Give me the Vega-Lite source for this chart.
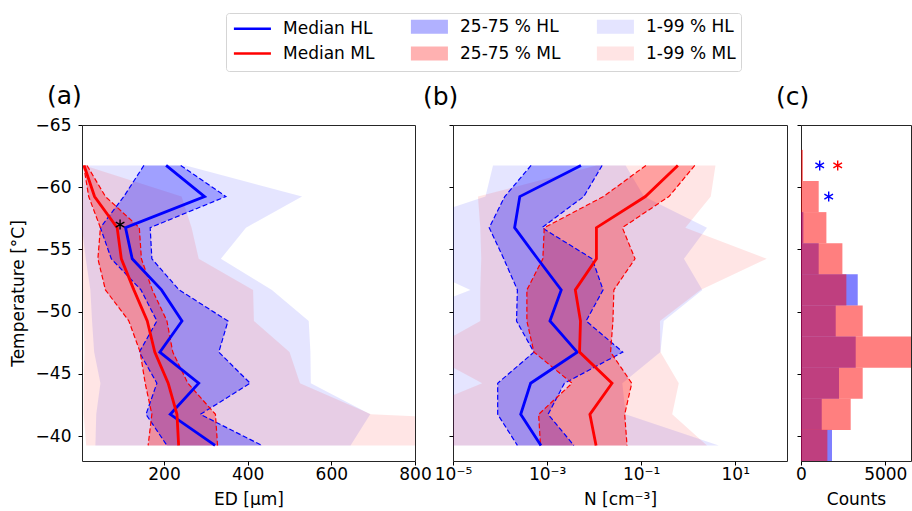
{
"$schema": "https://vega.github.io/schema/vega-lite/v6.json",
"padding": {"left": 8, "top": 12, "right": 0, "bottom": 0},
"bounds": "flush",
"spacing": 38,
"resolve": {"scale": {"fill": "shared", "stroke": "shared", "opacity": "shared", "shape": "shared"}},
"config": {
  "font": "DejaVu Sans",
  "view": {"stroke": "#262626", "strokeWidth": 1},
  "axis": {"domain": false, "grid": false, "labelFlush": false, "labelOverlap": false, "labelFont": "DejaVu Sans", "labelFontSize": 17, "labelColor": "#000", "titleFont": "DejaVu Sans", "titleFontSize": 17, "titleFontWeight": "normal", "titleColor": "#000", "tickColor": "#000", "tickSize": 4, "tickWidth": 1},
  "axisX": {"labelPadding": 1, "titlePadding": 9},
  "axisY": {"labelPadding": 7, "titlePadding": 8},
  "title": {"font": "DejaVu Sans", "fontSize": 25, "fontWeight": "normal", "color": "#000"},
  "legend": {"orient": "none", "legendX": 144, "legendY": -112, "columns": 3, "gridAlign": "each", "columnPadding": 30, "rowPadding": 2, "symbolSize": 196, "labelOffset": 35, "labelFont": "DejaVu Sans", "labelFontSize": 17, "labelColor": "#000", "padding": 5, "strokeColor": "#d5d5d5", "fillColor": "#ffffff", "cornerRadius": 3, "symbolStrokeWidth": 2.6}
},
"datasets": {
  "bands": [
    {"var":"ED","series":"1-99 % HL","band":"1-99","grp":"HL","T":-61.75,"lo":10,"hi":252},
    {"var":"ED","series":"1-99 % HL","band":"1-99","grp":"HL","T":-59.25,"lo":6,"hi":530},
    {"var":"ED","series":"1-99 % HL","band":"1-99","grp":"HL","T":-56.75,"lo":4,"hi":396},
    {"var":"ED","series":"1-99 % HL","band":"1-99","grp":"HL","T":-54.25,"lo":13,"hi":336},
    {"var":"ED","series":"1-99 % HL","band":"1-99","grp":"HL","T":-51.75,"lo":24,"hi":458},
    {"var":"ED","series":"1-99 % HL","band":"1-99","grp":"HL","T":-49.25,"lo":28,"hi":546},
    {"var":"ED","series":"1-99 % HL","band":"1-99","grp":"HL","T":-46.75,"lo":33,"hi":550},
    {"var":"ED","series":"1-99 % HL","band":"1-99","grp":"HL","T":-44.25,"lo":48,"hi":551},
    {"var":"ED","series":"1-99 % HL","band":"1-99","grp":"HL","T":-41.75,"lo":38,"hi":693},
    {"var":"ED","series":"1-99 % HL","band":"1-99","grp":"HL","T":-39.25,"lo":36,"hi":646},
    {"var":"ED","series":"1-99 % ML","band":"1-99","grp":"ML","T":-61.75,"lo":8,"hi":10},
    {"var":"ED","series":"1-99 % ML","band":"1-99","grp":"ML","T":-59.25,"lo":5,"hi":242},
    {"var":"ED","series":"1-99 % ML","band":"1-99","grp":"ML","T":-56.75,"lo":4,"hi":266},
    {"var":"ED","series":"1-99 % ML","band":"1-99","grp":"ML","T":-54.25,"lo":4,"hi":283},
    {"var":"ED","series":"1-99 % ML","band":"1-99","grp":"ML","T":-51.75,"lo":6,"hi":413},
    {"var":"ED","series":"1-99 % ML","band":"1-99","grp":"ML","T":-49.25,"lo":8,"hi":415},
    {"var":"ED","series":"1-99 % ML","band":"1-99","grp":"ML","T":-46.75,"lo":10,"hi":500},
    {"var":"ED","series":"1-99 % ML","band":"1-99","grp":"ML","T":-44.25,"lo":8,"hi":525},
    {"var":"ED","series":"1-99 % ML","band":"1-99","grp":"ML","T":-41.75,"lo":8,"hi":695},
    {"var":"ED","series":"1-99 % ML","band":"1-99","grp":"ML","T":-39.25,"lo":14,"hi":2400},
    {"var":"ED","series":"25-75 % HL","band":"25-75","grp":"HL","T":-61.75,"lo":152,"hi":240},
    {"var":"ED","series":"25-75 % HL","band":"25-75","grp":"HL","T":-59.25,"lo":104,"hi":348},
    {"var":"ED","series":"25-75 % HL","band":"25-75","grp":"HL","T":-56.75,"lo":48,"hi":167},
    {"var":"ED","series":"25-75 % HL","band":"25-75","grp":"HL","T":-54.25,"lo":74,"hi":171},
    {"var":"ED","series":"25-75 % HL","band":"25-75","grp":"HL","T":-51.75,"lo":145,"hi":236},
    {"var":"ED","series":"25-75 % HL","band":"25-75","grp":"HL","T":-49.25,"lo":183,"hi":353},
    {"var":"ED","series":"25-75 % HL","band":"25-75","grp":"HL","T":-46.75,"lo":141,"hi":331},
    {"var":"ED","series":"25-75 % HL","band":"25-75","grp":"HL","T":-44.25,"lo":183,"hi":406},
    {"var":"ED","series":"25-75 % HL","band":"25-75","grp":"HL","T":-41.75,"lo":157,"hi":287},
    {"var":"ED","series":"25-75 % HL","band":"25-75","grp":"HL","T":-39.25,"lo":207,"hi":434},
    {"var":"ED","series":"25-75 % ML","band":"25-75","grp":"ML","T":-61.75,"lo":8,"hi":16},
    {"var":"ED","series":"25-75 % ML","band":"25-75","grp":"ML","T":-59.25,"lo":20,"hi":60},
    {"var":"ED","series":"25-75 % ML","band":"25-75","grp":"ML","T":-56.75,"lo":48,"hi":141},
    {"var":"ED","series":"25-75 % ML","band":"25-75","grp":"ML","T":-54.25,"lo":42,"hi":146},
    {"var":"ED","series":"25-75 % ML","band":"25-75","grp":"ML","T":-51.75,"lo":60,"hi":172},
    {"var":"ED","series":"25-75 % ML","band":"25-75","grp":"ML","T":-49.25,"lo":116,"hi":207},
    {"var":"ED","series":"25-75 % ML","band":"25-75","grp":"ML","T":-46.75,"lo":143,"hi":221},
    {"var":"ED","series":"25-75 % ML","band":"25-75","grp":"ML","T":-44.25,"lo":155,"hi":257},
    {"var":"ED","series":"25-75 % ML","band":"25-75","grp":"ML","T":-41.75,"lo":171,"hi":323},
    {"var":"ED","series":"25-75 % ML","band":"25-75","grp":"ML","T":-39.25,"lo":162,"hi":328},
    {"var":"N","series":"1-99 % HL","band":"1-99","grp":"HL","T":-61.75,"lo":7.08e-5,"hi":0.0468},
    {"var":"N","series":"1-99 % HL","band":"1-99","grp":"HL","T":-59.25,"lo":4.9e-5,"hi":0.115},
    {"var":"N","series":"1-99 % HL","band":"1-99","grp":"HL","T":-56.75,"lo":5e-7,"hi":2.51},
    {"var":"N","series":"1-99 % HL","band":"1-99","grp":"HL","T":-54.25,"lo":7.9e-7,"hi":0.813},
    {"var":"N","series":"1-99 % HL","band":"1-99","grp":"HL","T":-51.75,"lo":2.34e-5,"hi":2.0},
    {"var":"N","series":"1-99 % HL","band":"1-99","grp":"HL","T":-49.25,"lo":5e-7,"hi":0.302},
    {"var":"N","series":"1-99 % HL","band":"1-99","grp":"HL","T":-46.75,"lo":1e-6,"hi":0.257},
    {"var":"N","series":"1-99 % HL","band":"1-99","grp":"HL","T":-44.25,"lo":1e-6,"hi":0.0398},
    {"var":"N","series":"1-99 % HL","band":"1-99","grp":"HL","T":-41.75,"lo":1e-6,"hi":0.0468},
    {"var":"N","series":"1-99 % HL","band":"1-99","grp":"HL","T":-39.25,"lo":1e-6,"hi":4.47},
    {"var":"N","series":"1-99 % ML","band":"1-99","grp":"ML","T":-61.75,"lo":0.0112,"hi":3.8},
    {"var":"N","series":"1-99 % ML","band":"1-99","grp":"ML","T":-59.25,"lo":3.39e-5,"hi":3.02},
    {"var":"N","series":"1-99 % ML","band":"1-99","grp":"ML","T":-56.75,"lo":3.8e-5,"hi":0.871},
    {"var":"N","series":"1-99 % ML","band":"1-99","grp":"ML","T":-54.25,"lo":3.98e-5,"hi":46.8},
    {"var":"N","series":"1-99 % ML","band":"1-99","grp":"ML","T":-51.75,"lo":3.8e-5,"hi":1.82},
    {"var":"N","series":"1-99 % ML","band":"1-99","grp":"ML","T":-49.25,"lo":3.8e-5,"hi":0.251},
    {"var":"N","series":"1-99 % ML","band":"1-99","grp":"ML","T":-46.75,"lo":2.51e-6,"hi":0.257},
    {"var":"N","series":"1-99 % ML","band":"1-99","grp":"ML","T":-44.25,"lo":4.17e-5,"hi":0.631},
    {"var":"N","series":"1-99 % ML","band":"1-99","grp":"ML","T":-41.75,"lo":1e-6,"hi":0.457},
    {"var":"N","series":"1-99 % ML","band":"1-99","grp":"ML","T":-39.25,"lo":1e-6,"hi":2.51},
    {"var":"N","series":"25-75 % HL","band":"25-75","grp":"HL","T":-61.75,"lo":4.57e-4,"hi":0.0148},
    {"var":"N","series":"25-75 % HL","band":"25-75","grp":"HL","T":-59.25,"lo":1.26e-4,"hi":0.00603},
    {"var":"N","series":"25-75 % HL","band":"25-75","grp":"HL","T":-56.75,"lo":5.89e-5,"hi":7.76e-4},
    {"var":"N","series":"25-75 % HL","band":"25-75","grp":"HL","T":-54.25,"lo":1.2e-4,"hi":0.00912},
    {"var":"N","series":"25-75 % HL","band":"25-75","grp":"HL","T":-51.75,"lo":2.34e-4,"hi":0.0155},
    {"var":"N","series":"25-75 % HL","band":"25-75","grp":"HL","T":-49.25,"lo":2.24e-4,"hi":0.00676},
    {"var":"N","series":"25-75 % HL","band":"25-75","grp":"HL","T":-46.75,"lo":5.25e-4,"hi":0.0407},
    {"var":"N","series":"25-75 % HL","band":"25-75","grp":"HL","T":-44.25,"lo":8.91e-5,"hi":0.00234},
    {"var":"N","series":"25-75 % HL","band":"25-75","grp":"HL","T":-41.75,"lo":8.91e-5,"hi":0.00105},
    {"var":"N","series":"25-75 % HL","band":"25-75","grp":"HL","T":-39.25,"lo":2.34e-4,"hi":0.00372},
    {"var":"N","series":"25-75 % ML","band":"25-75","grp":"ML","T":-61.75,"lo":0.126,"hi":1.38},
    {"var":"N","series":"25-75 % ML","band":"25-75","grp":"ML","T":-59.25,"lo":0.0158,"hi":0.389},
    {"var":"N","series":"25-75 % ML","band":"25-75","grp":"ML","T":-56.75,"lo":8.71e-4,"hi":0.0398},
    {"var":"N","series":"25-75 % ML","band":"25-75","grp":"ML","T":-54.25,"lo":8.13e-4,"hi":0.0741},
    {"var":"N","series":"25-75 % ML","band":"25-75","grp":"ML","T":-51.75,"lo":3.72e-4,"hi":0.0263},
    {"var":"N","series":"25-75 % ML","band":"25-75","grp":"ML","T":-49.25,"lo":3.72e-4,"hi":0.0251},
    {"var":"N","series":"25-75 % ML","band":"25-75","grp":"ML","T":-46.75,"lo":5.25e-4,"hi":0.0224},
    {"var":"N","series":"25-75 % ML","band":"25-75","grp":"ML","T":-44.25,"lo":0.00339,"hi":0.0631},
    {"var":"N","series":"25-75 % ML","band":"25-75","grp":"ML","T":-41.75,"lo":6.61e-4,"hi":0.0447},
    {"var":"N","series":"25-75 % ML","band":"25-75","grp":"ML","T":-39.25,"lo":7.24e-4,"hi":0.0501}
  ],
  "medians": [
    {"var":"ED","series":"Median HL","T":-61.75,"x":205},
    {"var":"ED","series":"Median HL","T":-59.25,"x":297},
    {"var":"ED","series":"Median HL","T":-56.75,"x":108},
    {"var":"ED","series":"Median HL","T":-54.25,"x":124},
    {"var":"ED","series":"Median HL","T":-51.75,"x":194},
    {"var":"ED","series":"Median HL","T":-49.25,"x":243},
    {"var":"ED","series":"Median HL","T":-46.75,"x":190},
    {"var":"ED","series":"Median HL","T":-44.25,"x":283},
    {"var":"ED","series":"Median HL","T":-41.75,"x":215},
    {"var":"ED","series":"Median HL","T":-39.25,"x":322},
    {"var":"ED","series":"Median ML","T":-61.75,"x":9},
    {"var":"ED","series":"Median ML","T":-59.25,"x":34},
    {"var":"ED","series":"Median ML","T":-56.75,"x":88},
    {"var":"ED","series":"Median ML","T":-54.25,"x":98},
    {"var":"ED","series":"Median ML","T":-51.75,"x":128},
    {"var":"ED","series":"Median ML","T":-49.25,"x":160},
    {"var":"ED","series":"Median ML","T":-46.75,"x":178},
    {"var":"ED","series":"Median ML","T":-44.25,"x":210},
    {"var":"ED","series":"Median ML","T":-41.75,"x":231},
    {"var":"ED","series":"Median ML","T":-39.25,"x":235},
    {"var":"N","series":"Median HL","T":-61.75,"x":0.00525},
    {"var":"N","series":"Median HL","T":-59.25,"x":2.63e-4},
    {"var":"N","series":"Median HL","T":-56.75,"x":2.04e-4},
    {"var":"N","series":"Median HL","T":-54.25,"x":6.31e-4},
    {"var":"N","series":"Median HL","T":-51.75,"x":0.002},
    {"var":"N","series":"Median HL","T":-49.25,"x":0.00115},
    {"var":"N","series":"Median HL","T":-46.75,"x":0.00437},
    {"var":"N","series":"Median HL","T":-44.25,"x":4.47e-4},
    {"var":"N","series":"Median HL","T":-41.75,"x":2.75e-4},
    {"var":"N","series":"Median HL","T":-39.25,"x":7.41e-4},
    {"var":"N","series":"Median ML","T":-61.75,"x":0.603},
    {"var":"N","series":"Median ML","T":-59.25,"x":0.123},
    {"var":"N","series":"Median ML","T":-56.75,"x":0.0112},
    {"var":"N","series":"Median ML","T":-54.25,"x":0.0112},
    {"var":"N","series":"Median ML","T":-51.75,"x":0.00398},
    {"var":"N","series":"Median ML","T":-49.25,"x":0.00513},
    {"var":"N","series":"Median ML","T":-46.75,"x":0.0049},
    {"var":"N","series":"Median ML","T":-44.25,"x":0.024},
    {"var":"N","series":"Median ML","T":-41.75,"x":0.00813},
    {"var":"N","series":"Median ML","T":-39.25,"x":0.011}
  ],
  "hist": [
    {"grp":"HL","lo":-58,"hi":-55.5,"count":140},
    {"grp":"HL","lo":-55.5,"hi":-53,"count":1050},
    {"grp":"HL","lo":-53,"hi":-50.5,"count":3365},
    {"grp":"HL","lo":-50.5,"hi":-48,"count":2060},
    {"grp":"HL","lo":-48,"hi":-45.5,"count":3245},
    {"grp":"HL","lo":-45.5,"hi":-43,"count":2255},
    {"grp":"HL","lo":-43,"hi":-40.5,"count":1230},
    {"grp":"HL","lo":-40.5,"hi":-38,"count":1840},
    {"grp":"ML","lo":-63,"hi":-60.5,"count":120},
    {"grp":"ML","lo":-60.5,"hi":-58,"count":1050},
    {"grp":"ML","lo":-58,"hi":-55.5,"count":1506},
    {"grp":"ML","lo":-55.5,"hi":-53,"count":2455},
    {"grp":"ML","lo":-53,"hi":-50.5,"count":2690},
    {"grp":"ML","lo":-50.5,"hi":-48,"count":3660},
    {"grp":"ML","lo":-48,"hi":-45.5,"count":6800},
    {"grp":"ML","lo":-45.5,"hi":-43,"count":3660},
    {"grp":"ML","lo":-43,"hi":-40.5,"count":2948},
    {"grp":"ML","lo":-40.5,"hi":-38,"count":1565}
  ],
  "stars": [
    {"panel":"a","grp":"all","x":95,"T":-57},
    {"panel":"c","grp":"HL","x":1109,"T":-61.75},
    {"panel":"c","grp":"HL","x":1643,"T":-59.25},
    {"panel":"c","grp":"ML","x":2177,"T":-61.75}
  ]
},
"hconcat": [
{
  "width": 333, "height": 336,
  "title": {"text": "(a)", "anchor": "start", "frame": "group", "dx": -35, "offset": 7},
  "layer": [
    {"data": {"name": "bands"}, "transform": [{"filter": "datum.var === 'ED' && datum.band === '1-99'"}],
     "mark": {"type": "area", "orient": "horizontal", "clip": true},
     "encoding": {
       "y": {"field": "T", "type": "quantitative", "scale": {"domain": [-65, -38], "reverse": true, "nice": false, "zero": false}, "axis": {"values": [-65, -60, -55, -50, -45, -40]}, "title": "Temperature [°C]"},
       "x": {"field": "lo", "type": "quantitative", "scale": {"domain": [4, 800], "nice": false, "zero": false}, "axis": {"values": [200, 400, 600, 800]}, "title": "ED [μm]"},
       "x2": {"field": "hi"},
       "fill": {"field": "series", "type": "nominal", "title": null, "scale": {"domain": ["Median HL", "Median ML", "25-75 % HL", "25-75 % ML", "1-99 % HL", "1-99 % ML"], "range": ["transparent", "transparent", "#0000ff", "#ff0000", "#0000ff", "#ff0000"]}},
       "opacity": {"field": "series", "type": "nominal", "title": null, "scale": {"type": "ordinal", "domain": ["Median HL", "Median ML", "25-75 % HL", "25-75 % ML", "1-99 % HL", "1-99 % ML"], "range": [1, 1, 0.3, 0.3, 0.1, 0.1]}}
     }},
    {"data": {"name": "bands"}, "transform": [{"filter": "datum.var === 'ED' && datum.band === '25-75'"}],
     "mark": {"type": "area", "orient": "horizontal", "clip": true},
     "encoding": {
       "y": {"field": "T", "type": "quantitative", "title": "Temperature [°C]"},
       "x": {"field": "lo", "type": "quantitative", "title": "ED [μm]"},
       "x2": {"field": "hi"},
       "fill": {"field": "series", "type": "nominal", "title": null, "scale": {"domain": ["Median HL", "Median ML", "25-75 % HL", "25-75 % ML", "1-99 % HL", "1-99 % ML"], "range": ["transparent", "transparent", "#0000ff", "#ff0000", "#0000ff", "#ff0000"]}},
       "opacity": {"field": "series", "type": "nominal", "title": null, "scale": {"type": "ordinal", "domain": ["Median HL", "Median ML", "25-75 % HL", "25-75 % ML", "1-99 % HL", "1-99 % ML"], "range": [1, 1, 0.3, 0.3, 0.1, 0.1]}}
     }},
    {"data": {"name": "bands"}, "transform": [{"filter": "datum.var === 'ED' && datum.band === '25-75' && datum.grp === 'HL'"}],
     "mark": {"type": "line", "stroke": "#0000ff", "strokeWidth": 1.2, "strokeDash": [5, 2.5], "clip": true},
     "encoding": {"y": {"field": "T", "type": "quantitative", "title": "Temperature [°C]"}, "x": {"field": "lo", "type": "quantitative", "title": "ED [μm]"}, "order": {"field": "T", "type": "quantitative"}}},
    {"data": {"name": "bands"}, "transform": [{"filter": "datum.var === 'ED' && datum.band === '25-75' && datum.grp === 'HL'"}],
     "mark": {"type": "line", "stroke": "#0000ff", "strokeWidth": 1.2, "strokeDash": [5, 2.5], "clip": true},
     "encoding": {"y": {"field": "T", "type": "quantitative", "title": "Temperature [°C]"}, "x": {"field": "hi", "type": "quantitative", "title": "ED [μm]"}, "order": {"field": "T", "type": "quantitative"}}},
    {"data": {"name": "bands"}, "transform": [{"filter": "datum.var === 'ED' && datum.band === '25-75' && datum.grp === 'ML'"}],
     "mark": {"type": "line", "stroke": "#ff0000", "strokeWidth": 1.2, "strokeDash": [5, 2.5], "clip": true},
     "encoding": {"y": {"field": "T", "type": "quantitative", "title": "Temperature [°C]"}, "x": {"field": "lo", "type": "quantitative", "title": "ED [μm]"}, "order": {"field": "T", "type": "quantitative"}}},
    {"data": {"name": "bands"}, "transform": [{"filter": "datum.var === 'ED' && datum.band === '25-75' && datum.grp === 'ML'"}],
     "mark": {"type": "line", "stroke": "#ff0000", "strokeWidth": 1.2, "strokeDash": [5, 2.5], "clip": true},
     "encoding": {"y": {"field": "T", "type": "quantitative", "title": "Temperature [°C]"}, "x": {"field": "hi", "type": "quantitative", "title": "ED [μm]"}, "order": {"field": "T", "type": "quantitative"}}},
    {"data": {"name": "medians"}, "transform": [{"filter": "datum.var === 'ED'"}],
     "mark": {"type": "line", "strokeWidth": 2.8, "clip": true},
     "encoding": {
       "y": {"field": "T", "type": "quantitative", "title": "Temperature [°C]"},
       "x": {"field": "x", "type": "quantitative", "title": "ED [μm]"},
       "stroke": {"field": "series", "type": "nominal", "title": null, "scale": {"domain": ["Median HL", "Median ML", "25-75 % HL", "25-75 % ML", "1-99 % HL", "1-99 % ML"], "range": ["#0000ff", "#ff0000", "transparent", "transparent", "transparent", "transparent"]}},
       "order": {"field": "T", "type": "quantitative"}
     }},
    {"data": {"name": "medians"}, "transform": [{"filter": "datum.var === 'ED'"}],
     "mark": {"type": "point", "opacity": 0, "clip": true},
     "encoding": {
       "y": {"field": "T", "type": "quantitative", "title": "Temperature [°C]"},
       "x": {"field": "x", "type": "quantitative", "title": "ED [μm]"},
       "shape": {"field": "series", "type": "nominal", "title": null, "scale": {"domain": ["Median HL", "Median ML", "25-75 % HL", "25-75 % ML", "1-99 % HL", "1-99 % ML"], "range": ["M-0.8,0H4.49", "M-0.8,0H4.49", "M-0.8,-1H4.49V1H-0.8Z", "M-0.8,-1H4.49V1H-0.8Z", "M-0.8,-1H4.49V1H-0.8Z", "M-0.8,-1H4.49V1H-0.8Z"]}}
     }},
    {"data": {"name": "stars"}, "transform": [{"filter": "datum.panel === 'a'"}],
     "mark": {"type": "point", "shape": "M0,-1V1M-0.866,-0.5L0.866,0.5M-0.866,0.5L0.866,-0.5", "filled": false, "stroke": "#000", "strokeWidth": 1.4, "size": 100, "opacity": 1},
     "encoding": {"y": {"field": "T", "type": "quantitative", "title": "Temperature [°C]"}, "x": {"field": "x", "type": "quantitative", "title": "ED [μm]"}}}
  ]
},
{
  "hconcat": [
  {
    "width": 334, "height": 336,
    "title": {"text": "(b)", "anchor": "start", "frame": "group", "dx": -30, "offset": 15},
    "layer": [
      {"data": {"name": "bands"}, "transform": [{"filter": "datum.var === 'N' && datum.band === '1-99'"}],
       "mark": {"type": "area", "orient": "horizontal", "clip": true},
       "encoding": {
         "y": {"field": "T", "type": "quantitative", "scale": {"domain": [-65, -38], "reverse": true, "nice": false, "zero": false}, "axis": {"values": [-65, -60, -55, -50, -45, -40], "labels": false, "title": null}},
         "x": {"field": "lo", "type": "quantitative", "scale": {"type": "log", "domain": [1e-5, 126], "nice": false}, "axis": {"values": [1e-5, 1e-3, 0.1, 10], "labelExpr": "datum.value < 1e-4 ? '10⁻⁵' : datum.value < 1e-2 ? '10⁻³' : datum.value < 1 ? '10⁻¹' : '10¹'"}, "title": "N [cm⁻³]"},
         "x2": {"field": "hi"},
         "fill": {"field": "series", "type": "nominal", "title": null, "scale": {"domain": ["Median HL", "Median ML", "25-75 % HL", "25-75 % ML", "1-99 % HL", "1-99 % ML"], "range": ["transparent", "transparent", "#0000ff", "#ff0000", "#0000ff", "#ff0000"]}},
         "opacity": {"field": "series", "type": "nominal", "title": null, "scale": {"type": "ordinal", "domain": ["Median HL", "Median ML", "25-75 % HL", "25-75 % ML", "1-99 % HL", "1-99 % ML"], "range": [1, 1, 0.3, 0.3, 0.1, 0.1]}}
       }},
      {"data": {"name": "bands"}, "transform": [{"filter": "datum.var === 'N' && datum.band === '25-75'"}],
       "mark": {"type": "area", "orient": "horizontal", "clip": true},
       "encoding": {
         "y": {"field": "T", "type": "quantitative", "axis": {"labels": false, "title": null}},
         "x": {"field": "lo", "type": "quantitative", "title": "N [cm⁻³]"},
         "x2": {"field": "hi"},
         "fill": {"field": "series", "type": "nominal", "title": null, "scale": {"domain": ["Median HL", "Median ML", "25-75 % HL", "25-75 % ML", "1-99 % HL", "1-99 % ML"], "range": ["transparent", "transparent", "#0000ff", "#ff0000", "#0000ff", "#ff0000"]}},
         "opacity": {"field": "series", "type": "nominal", "title": null, "scale": {"type": "ordinal", "domain": ["Median HL", "Median ML", "25-75 % HL", "25-75 % ML", "1-99 % HL", "1-99 % ML"], "range": [1, 1, 0.3, 0.3, 0.1, 0.1]}}
       }},
      {"data": {"name": "bands"}, "transform": [{"filter": "datum.var === 'N' && datum.band === '25-75' && datum.grp === 'HL'"}],
       "mark": {"type": "line", "stroke": "#0000ff", "strokeWidth": 1.2, "strokeDash": [5, 2.5], "clip": true},
       "encoding": {"y": {"field": "T", "type": "quantitative", "axis": {"labels": false, "title": null}}, "x": {"field": "lo", "type": "quantitative", "title": "N [cm⁻³]"}, "order": {"field": "T", "type": "quantitative"}}},
      {"data": {"name": "bands"}, "transform": [{"filter": "datum.var === 'N' && datum.band === '25-75' && datum.grp === 'HL'"}],
       "mark": {"type": "line", "stroke": "#0000ff", "strokeWidth": 1.2, "strokeDash": [5, 2.5], "clip": true},
       "encoding": {"y": {"field": "T", "type": "quantitative", "axis": {"labels": false, "title": null}}, "x": {"field": "hi", "type": "quantitative", "title": "N [cm⁻³]"}, "order": {"field": "T", "type": "quantitative"}}},
      {"data": {"name": "bands"}, "transform": [{"filter": "datum.var === 'N' && datum.band === '25-75' && datum.grp === 'ML'"}],
       "mark": {"type": "line", "stroke": "#ff0000", "strokeWidth": 1.2, "strokeDash": [5, 2.5], "clip": true},
       "encoding": {"y": {"field": "T", "type": "quantitative", "axis": {"labels": false, "title": null}}, "x": {"field": "lo", "type": "quantitative", "title": "N [cm⁻³]"}, "order": {"field": "T", "type": "quantitative"}}},
      {"data": {"name": "bands"}, "transform": [{"filter": "datum.var === 'N' && datum.band === '25-75' && datum.grp === 'ML'"}],
       "mark": {"type": "line", "stroke": "#ff0000", "strokeWidth": 1.2, "strokeDash": [5, 2.5], "clip": true},
       "encoding": {"y": {"field": "T", "type": "quantitative", "axis": {"labels": false, "title": null}}, "x": {"field": "hi", "type": "quantitative", "title": "N [cm⁻³]"}, "order": {"field": "T", "type": "quantitative"}}},
      {"data": {"name": "medians"}, "transform": [{"filter": "datum.var === 'N'"}],
       "mark": {"type": "line", "strokeWidth": 2.8, "clip": true},
       "encoding": {
         "y": {"field": "T", "type": "quantitative", "axis": {"labels": false, "title": null}},
         "x": {"field": "x", "type": "quantitative", "title": "N [cm⁻³]"},
         "stroke": {"field": "series", "type": "nominal", "title": null, "scale": {"domain": ["Median HL", "Median ML", "25-75 % HL", "25-75 % ML", "1-99 % HL", "1-99 % ML"], "range": ["#0000ff", "#ff0000", "transparent", "transparent", "transparent", "transparent"]}},
         "order": {"field": "T", "type": "quantitative"}
       }}
    ]
  },
  {
    "width": 110, "height": 336,
    "title": {"text": "(c)", "anchor": "start", "frame": "group", "dx": -25, "offset": 15},
    "layer": [
      {"data": {"name": "hist"}, "transform": [{"filter": "datum.grp === 'HL'"}],
       "mark": {"type": "rect", "fill": "#0000ff", "fillOpacity": 0.5, "clip": true},
       "encoding": {
         "y": {"field": "lo", "type": "quantitative", "scale": {"domain": [-65, -38], "reverse": true, "nice": false, "zero": false}, "axis": {"values": [-65, -60, -55, -50, -45, -40], "labels": false, "title": null}},
         "y2": {"field": "hi"},
         "x": {"field": "count", "type": "quantitative", "scale": {"domain": [0, 6525], "nice": false}, "axis": {"values": [0, 5000], "format": "d"}, "title": "Counts"},
         "x2": {"datum": 0}
       }},
      {"data": {"name": "hist"}, "transform": [{"filter": "datum.grp === 'ML'"}],
       "mark": {"type": "rect", "fill": "#ff0000", "fillOpacity": 0.5, "clip": true},
       "encoding": {
         "y": {"field": "lo", "type": "quantitative", "axis": {"labels": false, "title": null}},
         "y2": {"field": "hi"},
         "x": {"field": "count", "type": "quantitative", "title": "Counts"},
         "x2": {"datum": 0}
       }},
      {"data": {"name": "stars"}, "transform": [{"filter": "datum.panel === 'c' && datum.grp === 'HL'"}],
       "mark": {"type": "point", "shape": "M0,-1V1M-0.866,-0.5L0.866,0.5M-0.866,0.5L0.866,-0.5", "filled": false, "stroke": "#0000ff", "strokeWidth": 1.4, "size": 100, "opacity": 1},
       "encoding": {"y": {"field": "T", "type": "quantitative", "axis": {"labels": false, "title": null}}, "x": {"field": "x", "type": "quantitative", "title": "Counts"}}},
      {"data": {"name": "stars"}, "transform": [{"filter": "datum.panel === 'c' && datum.grp === 'ML'"}],
       "mark": {"type": "point", "shape": "M0,-1V1M-0.866,-0.5L0.866,0.5M-0.866,0.5L0.866,-0.5", "filled": false, "stroke": "#ff0000", "strokeWidth": 1.4, "size": 100, "opacity": 1},
       "encoding": {"y": {"field": "T", "type": "quantitative", "axis": {"labels": false, "title": null}}, "x": {"field": "x", "type": "quantitative", "title": "Counts"}}}
    ]
  }
  ],
  "spacing": 14,
  "bounds": "flush"
}
]
}
